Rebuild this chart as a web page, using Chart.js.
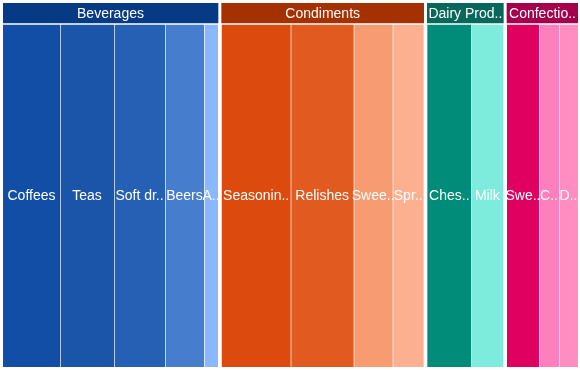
<!DOCTYPE html>
<html lang="en">

<head>
  <meta charset="utf-8">
  <style>
    body {
      margin: 0;
      background-color: #ffffff;
    }

    .chart-container {
      position: relative;
      width: 580px;
      height: 370px;
    }
  </style>
</head>

<body>
  <div class="chart-container">
    <canvas id="myChart"></canvas>
  </div>
  <script src="https://cdn.jsdelivr.net/npm/chart.js"></script>
  <script>

    const groupLabels = ['Beverages', 'Condiments', 'Dairy Prod..', 'Confectio..'];
    const groupColors = ['#063a85', '#a53000', '#06675a', '#a5004c'];

    const leafGroup = [0, 0, 0, 0, 0, 1, 1, 1, 1, 2, 2, 3, 3, 3];
    const leafLabels = ['Coffees', 'Teas', 'Soft dr..', 'Beers', 'A..',
      'Seasonin..', 'Relishes', 'Swee..', 'Spr..',
      'Ches..', 'Milk',
      'Swe..', 'C..', 'D..'];
    const leafValues = [57, 54, 51, 39, 14, 69, 63, 39, 31, 44, 32, 32, 20, 19];
    const leafColors = ['#124ea5', '#1b55a9', '#2560b4', '#467dcc', '#8ab8fa',
      '#dc4a0e', '#e15a20', '#f79b72', '#fdb08f',
      '#008c79', '#7eecdc',
      '#e0005f', '#fd7fbc', '#ff8dc2'];

    /* ------------------------------------------------ */

    const GAP = 11 / 3;        // space between groups, in value units
    const HEAD_ROW = 10;       // y centre of header strip
    const BODY_ROW = 192.5;    // y centre of leaf strip

    buildChart();

    function buildChart() {
      let datasets = [];
      let groupSpan = groupLabels.map(() => [null, null]);
      let pos = 0;

      leafValues.forEach((v, i) => {
        let g = leafGroup[i];
        if (i > 0 && leafGroup[i - 1] != g) pos += GAP;
        let first = groupSpan[g][0] === null;
        if (first) groupSpan[g][0] = pos;
        datasets.push({
          label: leafLabels[i],
          data: [{ y: BODY_ROW, x: [pos, pos + v] }],
          backgroundColor: leafColors[i],
          borderColor: 'rgba(255,255,255,0.55)',
          borderWidth: { top: 1, left: first ? 0 : 1, right: 0, bottom: 0 },
          borderSkipped: false,
          barThickness: 343,
          grouped: false
        });
        pos += v;
        groupSpan[g][1] = pos;
      });

      groupLabels.forEach((name, g) => {
        datasets.push({
          label: name,
          data: [{ y: HEAD_ROW, x: groupSpan[g] }],
          backgroundColor: groupColors[g],
          borderWidth: 0,
          barThickness: 20,
          grouped: false
        });
      });

      const labelPlugin = {
        id: 'cellLabels',
        afterDatasetsDraw(chart) {
          const ctx = chart.ctx;
          ctx.save();
          ctx.font = '14px "Liberation Sans", Arial, sans-serif';
          ctx.fillStyle = '#ffffff';
          ctx.textAlign = 'center';
          ctx.textBaseline = 'middle';
          chart.data.datasets.forEach((ds, i) => {
            let bar = chart.getDatasetMeta(i).data[0];
            if (!bar) return;
            let p = bar.getProps(['x', 'y', 'base']);
            ctx.fillText(ds.label, (p.x + p.base) / 2, p.y + 1);
          });
          ctx.restore();
        }
      };

      let ctx = document.getElementById('myChart').getContext('2d');
      new Chart(ctx, {
        type: 'bar',
        data: { datasets: datasets },
        plugins: [labelPlugin],
        options: {
          indexAxis: 'y',
          responsive: true,
          maintainAspectRatio: false,
          animation: false,
          layout: { padding: { left: 3, top: 3, right: 2, bottom: 3 } },
          scales: {
            x: { type: 'linear', min: 0, max: pos, offset: false, display: false },
            y: { type: 'linear', min: 0, max: 364, reverse: true, offset: false, display: false }
          },
          plugins: {
            legend: { display: false },
            tooltip: { enabled: false }
          }
        }
      });
    }

  </script>
</body>

</html>
